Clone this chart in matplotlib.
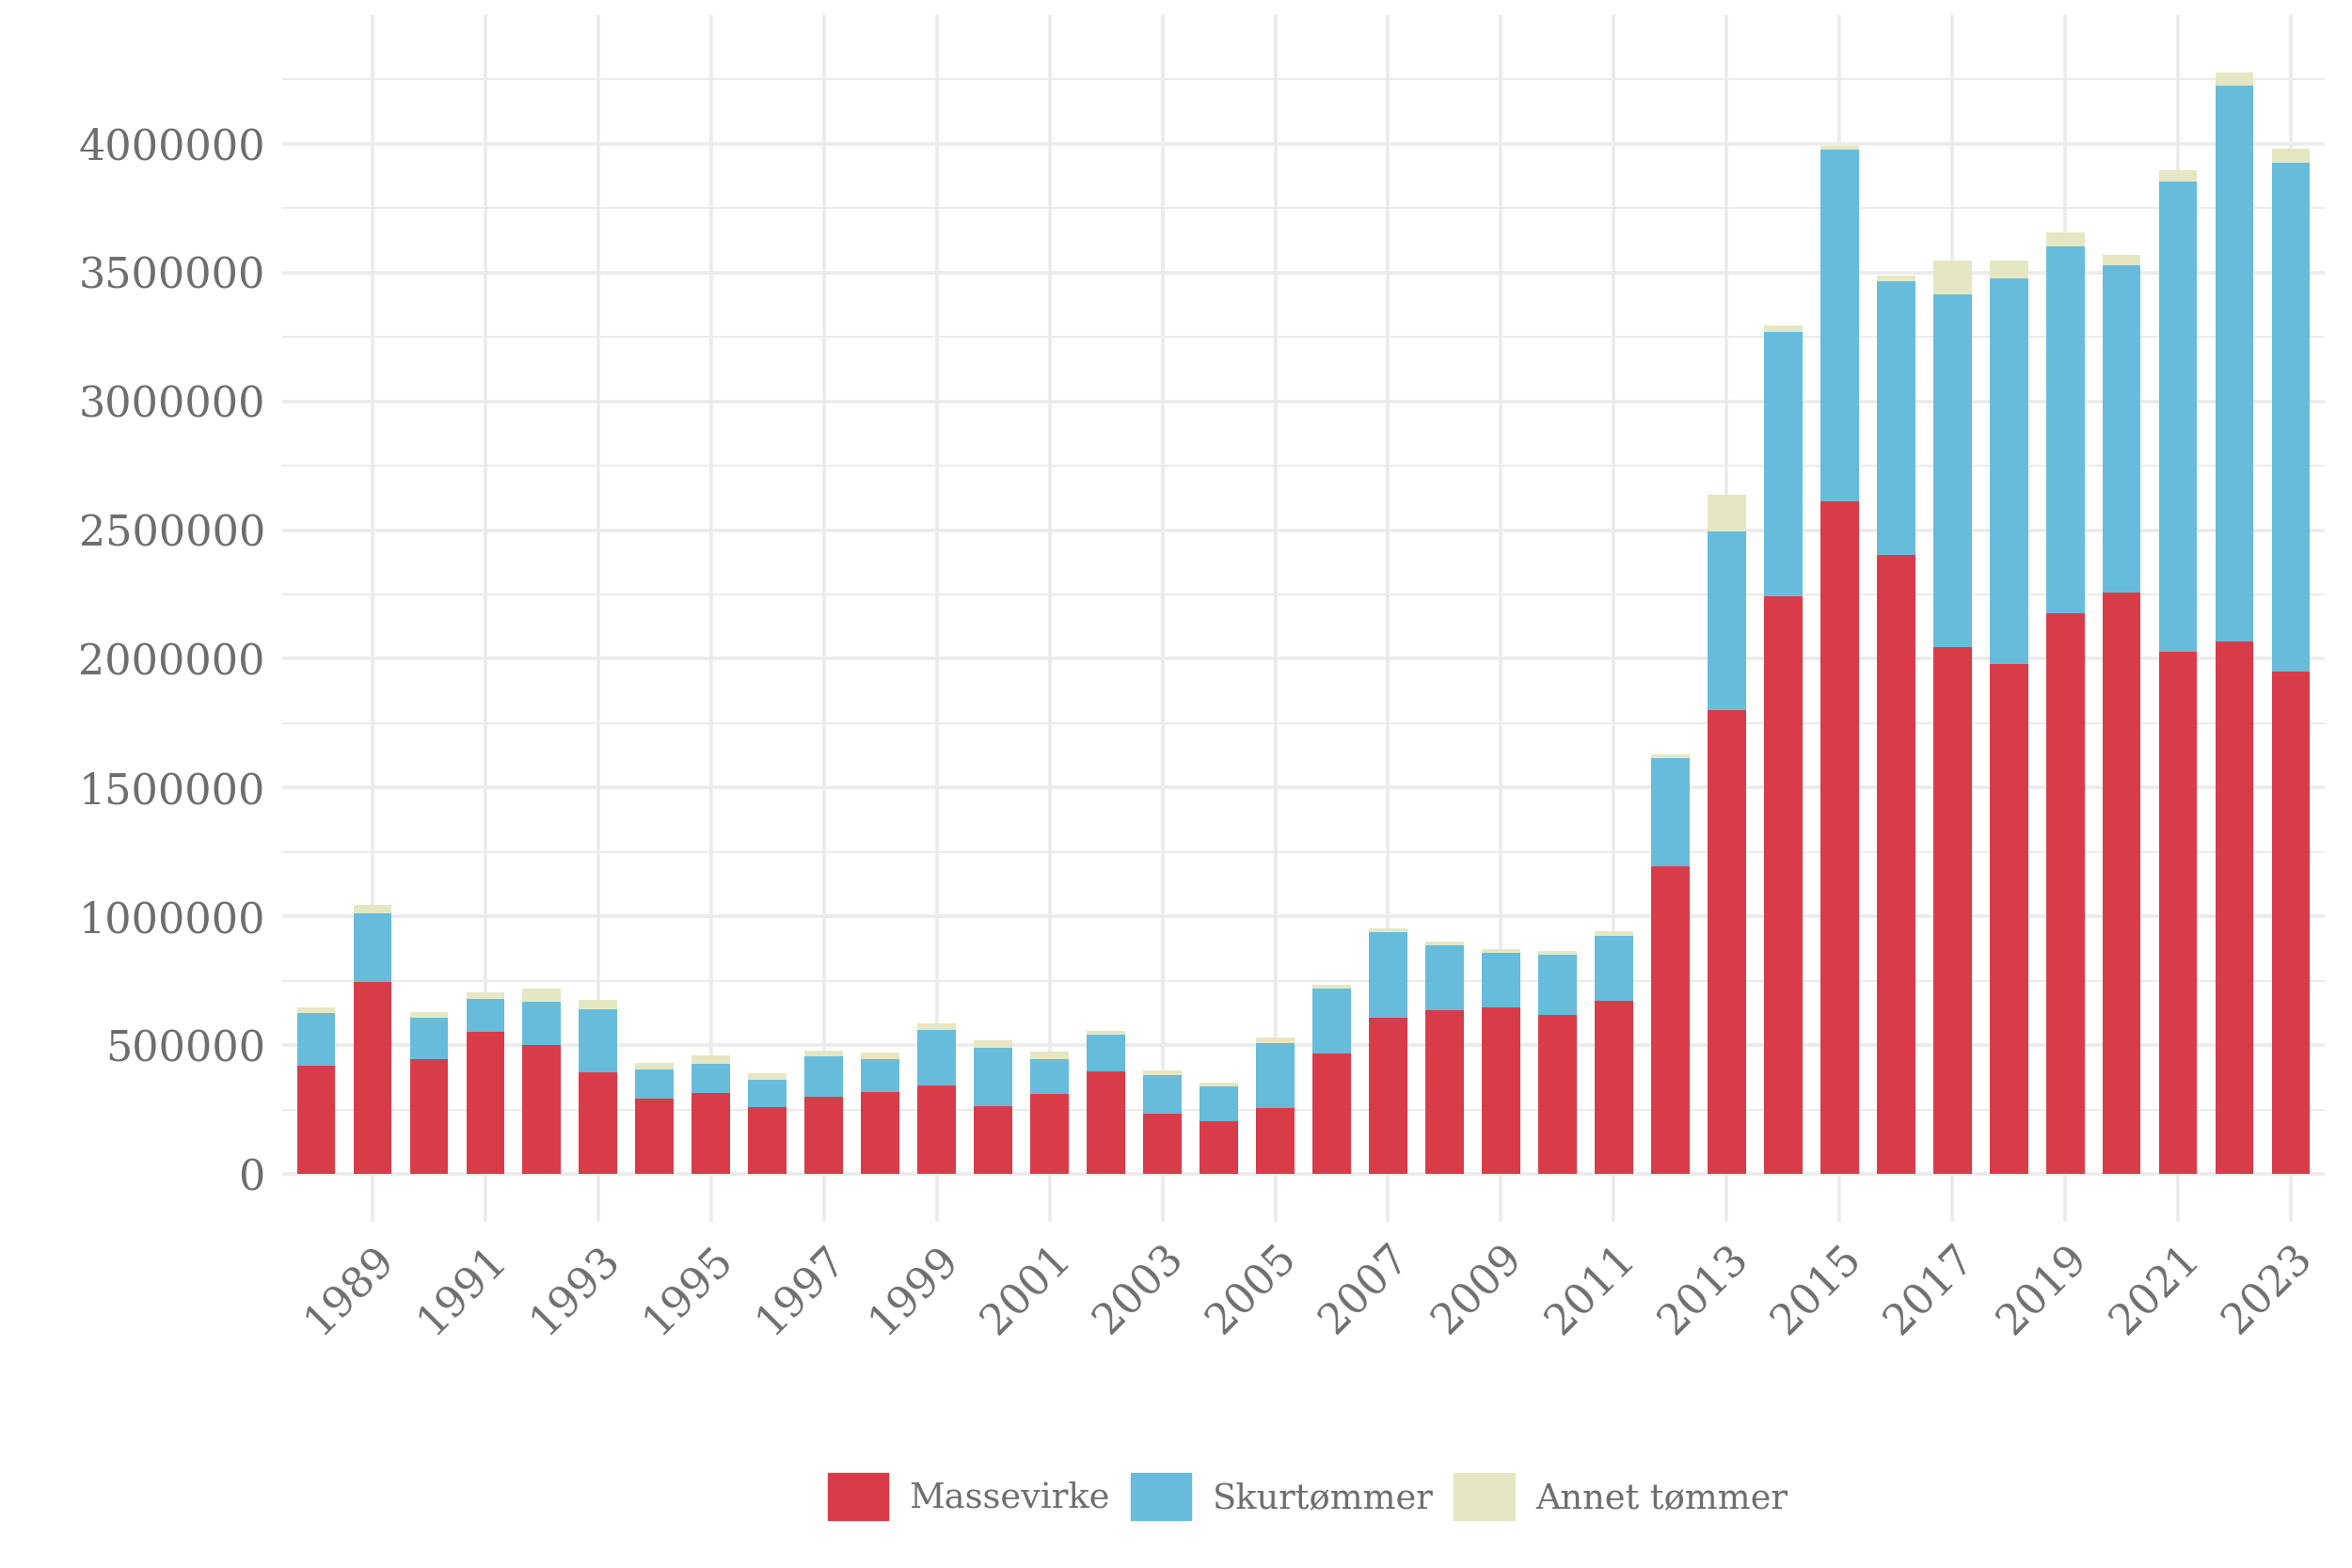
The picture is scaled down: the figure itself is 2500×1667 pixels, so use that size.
import matplotlib
matplotlib.use("Agg")
import matplotlib.pyplot as plt
import matplotlib.patches as mpatches
import numpy as np

plt.rcParams['font.family'] = ['DejaVu Serif']

years = np.arange(1988, 2024)

massevirke = [420000, 746000, 445000, 552000, 500000, 396000, 294000, 314000, 258000,
              300000, 318000, 345000, 263000, 311000, 399000, 235000, 205000, 257000,
              466000, 606000, 635000, 648000, 617000, 672000, 1195000, 1800000, 2243000,
              2612000, 2403000, 2044000, 1978000, 2176000, 2256000, 2026000, 2067000, 1951000]

skurtommer = [206000, 264000, 161000, 126000, 170000, 244000, 112000, 114000, 109000,
              156000, 128000, 214000, 227000, 136000, 142000, 149000, 135000, 251000,
              253000, 332000, 253000, 210000, 234000, 251000, 418000, 696000, 1026000,
              1364000, 1065000, 1372000, 1500000, 1424000, 1272000, 1826000, 2160000, 1976000]

annet = [21000, 34000, 24000, 28000, 50000, 36000, 25000, 34000, 24000,
         23000, 26000, 24000, 28000, 27000, 16000, 19000, 16000, 23000,
         17000, 14000, 16000, 16000, 13000, 20000, 17000, 142000, 26000,
         16000, 20000, 132000, 70000, 56000, 40000, 45000, 52000, 55000]

labels = ["Massevirke", "Skurtømmer", "Annet tømmer"]
colors = ["#D93C49", "#67BCDB", "#E6E7C2"]
grey = "#6E6E6E"

massevirke = np.array(massevirke)
skurtommer = np.array(skurtommer)
annet = np.array(annet)

fig = plt.figure(figsize=(25, 16.67), dpi=100)
ax = fig.add_axes([0.12, 0.2208, 0.8684, 0.7696])

w = 0.68
ax.bar(years, massevirke, width=w, color=colors[0], zorder=3)
ax.bar(years, skurtommer, width=w, bottom=massevirke, color=colors[1], zorder=3)
ax.bar(years, annet, width=w, bottom=massevirke + skurtommer, color=colors[2], zorder=3)

ax.set_xlim(1987.4, 2023.6)
ax.set_ylim(-186000, 4500000)

ax.set_yticks(np.arange(0, 4000001, 500000))
ax.set_yticks(np.arange(250000, 4500000, 500000), minor=True)
ax.set_yticklabels([str(v) for v in range(0, 4000001, 500000)])
ax.set_xticks(np.arange(1989, 2024, 2))
ax.set_xticklabels([str(y) for y in range(1989, 2024, 2)], rotation=45,
                   ha='right', va='top', rotation_mode='anchor')

ax.grid(which='major', color='#EBEBEB', linewidth=2.6, zorder=0)
ax.grid(which='minor', axis='y', color='#EBEBEB', linewidth=1.4, zorder=0)
ax.set_axisbelow(True)
for s in ax.spines.values():
    s.set_visible(False)
ax.tick_params(which='both', length=0)
ax.tick_params(axis='y', labelsize=32, labelcolor=grey, pad=13)
ax.tick_params(axis='x', labelsize=32, labelcolor=grey, pad=12)

handles = [mpatches.Patch(color=c, label=l) for c, l in zip(colors, labels)]
fig.legend(handles=handles, loc='center', bbox_to_anchor=(0.556, 0.0456), ncol=3,
           frameon=False, fontsize=26.5, labelcolor=grey, handlelength=1.75,
           handleheight=1.75, handletextpad=0.6, columnspacing=0.6)

fig.savefig("out.png", dpi=100)
